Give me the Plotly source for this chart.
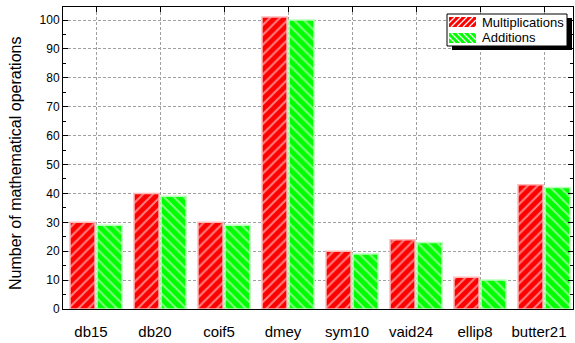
import plotly.graph_objects as go

categories = ["db15", "db20", "coif5", "dmey", "sym10", "vaid24", "ellip8", "butter21"]
multiplications = [30, 40, 30, 101, 20, 24, 11, 43]
additions = [29, 39, 29, 100, 19, 23, 10, 42]
series_names = ["Multiplications", "Additions"]
y_ticks = list(range(0, 101, 10))

W, H = 575, 343
ML, MR, MT, MB = 63, 2, 7, 34
PW, PH = W - ML - MR, H - MT - MB

def px(x):
    return (x - ML) / PW

def py(y):
    return (H - MB - y) / PH

FONT = "Liberation Sans, Arial, sans-serif"
RED, GREEN = "#ff0000", "#00ff00"

fig = go.Figure()
fig.add_trace(go.Bar(
    x=categories, y=multiplications, name=series_names[0],
    marker=dict(color=RED, line=dict(color="#ffb8b8", width=1.5),
                pattern=dict(shape="/", fgcolor="white", bgcolor=RED, size=7, solidity=0.28)),
    showlegend=False,
))
fig.add_trace(go.Bar(
    x=categories, y=additions, name=series_names[1],
    marker=dict(color=GREEN, line=dict(color="#b8ffb8", width=1.5),
                pattern=dict(shape="\\", fgcolor="white", bgcolor=GREEN, size=7, solidity=0.28)),
    showlegend=False,
))
# invisible helper trace for the top tick axis
fig.add_trace(go.Scatter(x=categories, y=[None] * len(categories), xaxis="x2",
                         mode="markers", showlegend=False, hoverinfo="skip"))

fig.update_layout(
    width=W, height=H,
    margin=dict(l=ML, r=MR, t=MT, b=MB, autoexpand=False),
    paper_bgcolor="white", plot_bgcolor="white",
    barmode="group", bargap=0.156, bargroupgap=0.074,
    font=dict(family=FONT, color="black"),
    xaxis=dict(
        range=[-0.516, 7.453], showline=True, linecolor="black", linewidth=1, automargin=False,
        ticks="", showgrid=True, gridcolor="#a0a0a0", griddash="3px,2px", gridwidth=1,
        tickfont=dict(size=15), ticklabelshift=-5, ticklabelstandoff=9,
        zeroline=False,
    ),
    xaxis2=dict(
        overlaying="x", side="top", matches="x", range=[-0.516, 7.453], automargin=False,
        showline=True, linecolor="black", linewidth=1,
        ticks="inside", ticklen=5, tickcolor="black", showticklabels=False, showgrid=False,
        minor=dict(ticks="inside", ticklen=4, tickcolor="black", showgrid=False, tick0=0.5, dtick=1),
        zeroline=False,
    ),
    yaxis=dict(
        range=[0, 104.5], tickvals=y_ticks, showline=True, linecolor="black", linewidth=1,
        automargin=False,
        mirror="ticks", ticks="inside", ticklen=5, tickcolor="black",
        minor=dict(ticks="inside", ticklen=3, tickcolor="black", dtick=5, showgrid=False),
        showgrid=True, gridcolor="#a0a0a0", griddash="3px,2px", gridwidth=1,
        tickfont=dict(size=12), zeroline=False,
    ),
)

# y title as annotation
annotations = [dict(
    text="Number of mathematical operations", x=px(15), y=py(164), xref="paper", yref="paper",
    textangle=-90, showarrow=False, font=dict(size=16, family=FONT, color="black"),
    xanchor="center", yanchor="middle",
)]

# custom legend
shapes = []
bx0, by0, bx1, by1 = 447, 14, 567, 46
shapes.append(dict(type="rect", xref="paper", yref="paper", x0=px(bx0 + 5), x1=px(bx1 + 5),
                   y0=py(by1 + 4), y1=py(by0 + 4), fillcolor="black", line=dict(width=0), layer="above"))
shapes.append(dict(type="rect", xref="paper", yref="paper", x0=px(bx0), x1=px(bx1),
                   y0=py(by1), y1=py(by0), fillcolor="white", line=dict(color="black", width=1), layer="above"))

def swatch(x0, y0, x1, y1, color, forward):
    out = [dict(type="rect", xref="paper", yref="paper", x0=px(x0), x1=px(x1), y0=py(y1), y1=py(y0),
                fillcolor=color, line=dict(width=0), layer="above")]
    h = y1 - y0
    s = 6
    c = x0 - h
    while c < x1:
        t0 = max(0.0, (x0 - c) / h)
        t1 = min(1.0, (x1 - c) / h)
        if t1 > t0:
            xa, xb = c + t0 * h, c + t1 * h
            if forward:
                ya, yb = y1 - t0 * h, y1 - t1 * h
            else:
                ya, yb = y0 + t0 * h, y0 + t1 * h
            out.append(dict(type="line", xref="paper", yref="paper", x0=px(xa), x1=px(xb),
                            y0=py(ya), y1=py(yb), line=dict(color="white", width=1.3), layer="above"))
        c += s
    return out

shapes += swatch(449, 17, 476, 27, RED, True)
shapes += swatch(449, 33, 476, 43, GREEN, False)
for label, yc in zip(series_names, [22, 38]):
    annotations.append(dict(text=label, x=px(480), y=py(yc), xref="paper", yref="paper",
                            showarrow=False, xanchor="left", yanchor="middle",
                            font=dict(size=13, family=FONT, color="black")))

fig.update_layout(shapes=shapes, annotations=annotations)
fig.write_html("out.html", config={"displayModeBar": False},
               post_script="document.body.style.margin='0';")
